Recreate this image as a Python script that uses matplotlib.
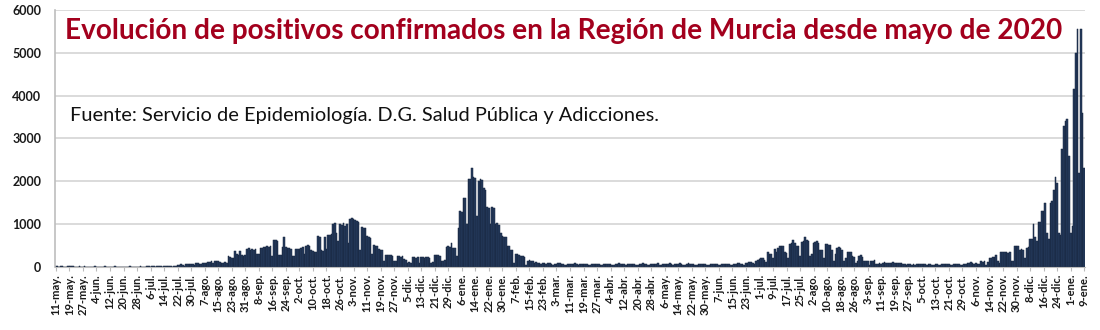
import matplotlib
matplotlib.use("Agg")
import matplotlib.pyplot as plt
import numpy as np
import pandas as pd

start_date = "2020-05-11"
meses = ["ene", "feb", "mar", "abr", "may", "jun", "jul", "ago", "sep", "oct", "nov", "dic"]

# daily confirmed positives, one row per 8-day tick interval
casos_2020 = [
    12, 15, 10, 18, 14, 8, 6, 11,
    16, 14, 12, 9, 5, 7, 13, 10,
    8, 11, 9, 6, 4, 9, 7, 12,
    10, 8, 5, 4, 8, 11, 9, 7,
    6, 4, 9, 12, 8, 10, 7, 5,
    4, 8, 6, 9, 11, 7, 5, 3,
    8, 10, 12, 9, 6, 4, 11, 14,
    10, 16, 12, 8, 15, 18, 13, 9,
    14, 20, 18, 22, 12, 10, 25, 28,
    55, 48, 62, 40, 30, 70, 65, 58,
    75, 60, 45, 85, 90, 70, 80, 95,
    100, 85, 120, 110, 130, 95, 150, 140,
    150, 120, 95, 100, 110, 90, 250, 240,
    200, 210, 380, 300, 290, 370, 280, 260,
    290, 430, 450, 400, 410, 390, 420, 300,
    310, 450, 440, 470, 460, 480, 470, 490,
    250, 630, 620, 600, 280, 270, 470, 700,
    460, 450, 440, 430, 250, 260, 410, 430,
    420, 450, 460, 300, 500, 510, 490, 400,
    380, 350, 360, 720, 700, 400, 380, 700,
    420, 750, 740, 760, 1000, 1020, 800, 600,
    1000, 980, 1030, 960, 1010, 550, 1120, 1140,
    1130, 1090, 1070, 1060, 400, 930, 910, 900,
    720, 700, 680, 300, 510, 500, 490, 420,
    400, 390, 150, 290, 280, 270, 285, 260,
    150, 140, 250, 260, 240, 250, 180, 160,
    100, 110, 95, 230, 240, 220, 230, 100,
    230, 240, 220, 235, 230, 210, 100, 120,
    280, 290, 270, 260, 150, 140, 160, 470,
]
casos_ola3 = [
    480, 460, 550, 450, 440, 250, 900, 1300,
    1280, 1600, 1620, 1000, 2050, 2060, 2300, 2100,
    2080, 1200, 2000, 2050, 2040, 1850, 1800, 1400,
    1380, 1000, 1400, 1380, 1000, 1020, 980, 800,
    720, 700, 690, 500, 480, 400, 390, 100,
    300, 310, 290, 250, 260, 240, 50, 150,
    160, 140, 150, 100, 110, 95, 90, 60,
    85, 95, 80, 100, 90, 70, 45, 80,
]
casos_primavera = [
    70, 85, 90, 60, 75, 50, 40, 65,
    80, 70, 75, 85, 60, 45, 70, 75,
    65, 80, 70, 55, 40, 60, 75, 70,
    80, 65, 50, 35, 70, 80, 75, 60,
    70, 55, 40, 65, 70, 85, 75, 80,
    60, 45, 75, 70, 65, 80, 70, 55,
    40, 70, 80, 90, 75, 70, 50, 40,
    65, 75, 80, 70, 85, 55, 45, 70,
    80, 75, 70, 85, 60, 40, 65, 70,
    80, 90, 75, 50, 40, 70, 85, 80,
    75, 70, 55, 45, 65, 80, 70, 75,
    70, 50, 40, 65, 75, 70, 80, 60,
    55, 40, 60, 70, 65, 75, 70, 50,
    45, 70, 80, 85, 90, 75, 60, 50,
]
casos_verano = [
    90, 100, 110, 120, 100, 70, 150, 160,
    180, 200, 210, 160, 120, 350, 300, 310,
    200, 420, 350, 450, 480, 500, 490, 350,
    330, 200, 540, 560, 620, 550, 500, 480,
    250, 590, 610, 690, 620, 600, 250, 300,
    560, 580, 600, 570, 400, 390, 200, 530,
    540, 520, 510, 400, 150, 300, 450, 460,
    440, 400, 150, 200, 350, 360, 340, 250,
    240, 100, 150, 260, 280, 240, 150, 140,
    150, 50, 140, 150, 160, 80, 75, 85,
    80, 100, 105, 95, 100, 90, 100, 110,
    95, 100, 90, 85, 100, 60, 65, 55,
    60, 65, 50, 60, 55, 70, 65, 60,
    70, 75, 65, 55, 60, 70, 50, 55,
    65, 70, 55, 50, 60, 75, 70, 65,
    60, 45, 55, 70, 80, 65, 60, 50,
]
casos_omicron = [
    55, 75, 80, 90, 100, 110, 95, 80,
    85, 70, 80, 130, 125, 135, 50, 120,
    220, 210, 230, 240, 280, 150, 100, 340,
    350, 360, 340, 330, 350, 150, 140, 500,
    500, 490, 400, 410, 390, 200, 440, 460,
    650, 650, 1000, 700, 600, 1050, 1050, 1300,
    1300, 1500, 800, 650, 1500, 1550, 1800, 2100,
    1950, 800, 750, 2750, 3300, 3400, 3450, 2600,
    800, 950, 4150, 5000, 5550, 2200, 5550, 3600,
    2300,
]

casos = casos_2020 + casos_ola3 + casos_primavera + casos_verano + casos_omicron
fechas = pd.date_range(start_date, periods=len(casos), freq="D")
etiquetas = [f"{d.day}-{meses[d.month - 1]}." for d in fechas]

titulo = "Evolución de positivos confirmados en la Región de Murcia desde mayo de 2020"
fuente = "Fuente: Servicio de Epidemiología. D.G. Salud Pública y Adicciones."

fig = plt.figure(figsize=(11, 3.3), dpi=100)
ax = fig.add_axes([0.05, 0.191, 0.9364, 0.7788])

x = np.arange(len(casos))
ax.bar(x, casos, width=1.0, color="#263c5e", edgecolor="#15233b", linewidth=0.35, zorder=2)

ax.set_xlim(-0.5, len(casos) - 0.5)
ax.set_ylim(0, 6000)
ax.set_yticks(np.arange(0, 6001, 1000))
ax.yaxis.grid(True, color="#d4d4d4", linewidth=1.2, zorder=0)
ax.set_axisbelow(True)

tick_idx = x[::8]
ax.set_xticks(tick_idx)
ax.set_xticklabels([etiquetas[i] for i in tick_idx], rotation=90,
                   fontsize=8, fontweight="bold", family=["Lato", "DejaVu Sans"], color="#1a1a1a")
ax.tick_params(axis="x", length=3, color="#bbbbbb", pad=2)
ax.tick_params(axis="y", length=0, pad=10)
for lab in ax.get_yticklabels():
    lab.set_fontsize(9)
    lab.set_fontweight("bold")
    lab.set_family(["Lato", "DejaVu Sans"])
    lab.set_color("#1a1a1a")

for s in ["top", "right"]:
    ax.spines[s].set_visible(False)
ax.spines["left"].set_color("#bdbdbd")
ax.spines["left"].set_linewidth(1.2)
ax.spines["bottom"].set_color("#bdbdbd")

fig.text(0.059, 0.905, titulo, color="#a3001d", fontsize=20.2, fontweight="bold",
         family=["Lato", "DejaVu Sans"], va="center", ha="left")
fig.text(0.064, 0.65, fuente, color="#111111", fontsize=14.4,
         family=["Lato", "DejaVu Sans"], va="center", ha="left")

fig.savefig("out.png", dpi=100)
